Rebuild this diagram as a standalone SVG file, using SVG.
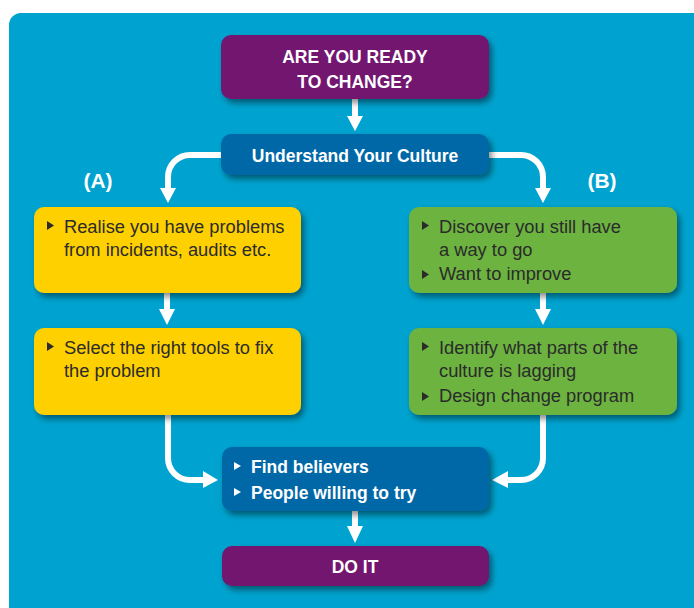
<svg xmlns="http://www.w3.org/2000/svg" width="694" height="608" viewBox="0 0 694 608">
  <defs>
    <filter id="shadow" x="-10%" y="-20%" width="125%" height="150%">
      <feGaussianBlur in="SourceAlpha" stdDeviation="3"/>
      <feOffset dx="3" dy="4" result="b"/>
      <feComponentTransfer><feFuncA type="linear" slope="0.45"/></feComponentTransfer>
      <feMerge><feMergeNode/><feMergeNode in="SourceGraphic"/></feMerge>
    </filter>
    <style>
      .purple { fill: #73126f; }
      .blue { fill: #0067a7; }
      .yellow { fill: #fed000; }
      .green { fill: #6cb33f; }
      .box { filter: url(#shadow); }
      .title { font-family: "Liberation Sans", Arial, sans-serif; font-weight: bold; font-size: 17.5px; fill: #ffffff; }
      .body { font-family: "Liberation Sans", Arial, sans-serif; font-size: 18.3px; fill: #2b2b2b; }
      .tag { font-family: "Liberation Sans", Arial, sans-serif; font-weight: bold; font-size: 21px; fill: #ffffff; }
      .wire { fill: none; stroke: #ffffff; stroke-width: 6; }
      .head { fill: #ffffff; }
      .dark-bullet { fill: #2b2b2b; }
      .light-bullet { fill: #ffffff; }
    </style>
  </defs>

  <!-- backdrop panel -->
  <rect width="694" height="608" fill="#ffffff"/>
  <path d="M9,25 A12,12 0 0 1 21,13 H694 V608 H9 Z" fill="#00a3cf"/>

  <!-- connectors -->
  <g id="connectors">
    <path class="wire" d="M355,99 V117"/>
    <polygon class="head" points="347,116 363,116 355,131"/>

    <path class="wire" d="M221,155 H190 A22,22 0 0 0 168,177 V189"/>
    <polygon class="head" points="160,188 176,188 168,203"/>

    <path class="wire" d="M489,155 H521 A22,22 0 0 1 543,177 V189"/>
    <polygon class="head" points="535,188 551,188 543,203"/>

    <path class="wire" d="M167,293 V310"/>
    <polygon class="head" points="159,309 175,309 167,325"/>

    <path class="wire" d="M543,293 V310"/>
    <polygon class="head" points="535,309 551,309 543,325"/>

    <path class="wire" d="M168,415 V458 A22,22 0 0 0 190,480 H204"/>
    <polygon class="head" points="203,471 203,488 218,480"/>

    <path class="wire" d="M543,415 V458 A22,22 0 0 1 521,480 H507"/>
    <polygon class="head" points="508,471 508,488 492,480"/>

    <path class="wire" d="M355,511 V527"/>
    <polygon class="head" points="347,526 363,526 355,543"/>
  </g>

  <!-- side labels -->
  <text class="tag" x="98" y="188" text-anchor="middle">(A)</text>
  <text class="tag" x="602" y="188" text-anchor="middle">(B)</text>

  <g id="ready">
    <rect class="box purple" x="221" y="35" width="268" height="64" rx="10"/>
    <text class="title" x="355" y="63" text-anchor="middle">ARE YOU READY</text>
    <text class="title" x="355" y="88" text-anchor="middle">TO CHANGE?</text>
  </g>

  <g id="culture">
    <rect class="box blue" x="221" y="134" width="268" height="41" rx="10"/>
    <text class="title" x="355" y="162" text-anchor="middle">Understand Your Culture</text>
  </g>

  <g id="realise">
    <rect class="box yellow" x="34" y="207" width="267" height="86" rx="10"/>
    <polygon class="dark-bullet" points="47,221 47,230 54,225.5"/>
    <text class="body" x="64" y="233">Realise you have problems</text>
    <text class="body" x="64" y="256">from incidents, audits etc.</text>
  </g>

  <g id="select">
    <rect class="box yellow" x="34" y="328" width="267" height="87" rx="10"/>
    <polygon class="dark-bullet" points="47,342 47,351 54,346.5"/>
    <text class="body" x="64" y="354">Select the right tools to fix</text>
    <text class="body" x="64" y="377">the problem</text>
  </g>

  <g id="discover">
    <rect class="box green" x="409" y="207" width="268" height="86" rx="10"/>
    <polygon class="dark-bullet" points="422,221 422,230 429,225.5"/>
    <text class="body" x="439" y="233">Discover you still have</text>
    <text class="body" x="439" y="256">a way to go</text>
    <polygon class="dark-bullet" points="422,270 422,279 429,274.5"/>
    <text class="body" x="439" y="280">Want to improve</text>
  </g>

  <g id="identify">
    <rect class="box green" x="409" y="328" width="268" height="87" rx="10"/>
    <polygon class="dark-bullet" points="422,342 422,351 429,346.5"/>
    <text class="body" x="439" y="354">Identify what parts of the</text>
    <text class="body" x="439" y="377">culture is lagging</text>
    <polygon class="dark-bullet" points="422,392 422,401 429,396.5"/>
    <text class="body" x="439" y="402">Design change program</text>
  </g>

  <g id="believers">
    <rect class="box blue" x="222" y="447" width="267" height="64" rx="10"/>
    <polygon class="light-bullet" points="234,462 234,470 241,466"/>
    <text class="title" x="251" y="473">Find believers</text>
    <polygon class="light-bullet" points="234,488 234,496 241,492"/>
    <text class="title" x="251" y="499">People willing to try</text>
  </g>

  <g id="do-it">
    <rect class="box purple" x="222" y="546" width="267" height="40" rx="10"/>
    <text class="title" x="355" y="573" text-anchor="middle">DO IT</text>
  </g>
</svg>
